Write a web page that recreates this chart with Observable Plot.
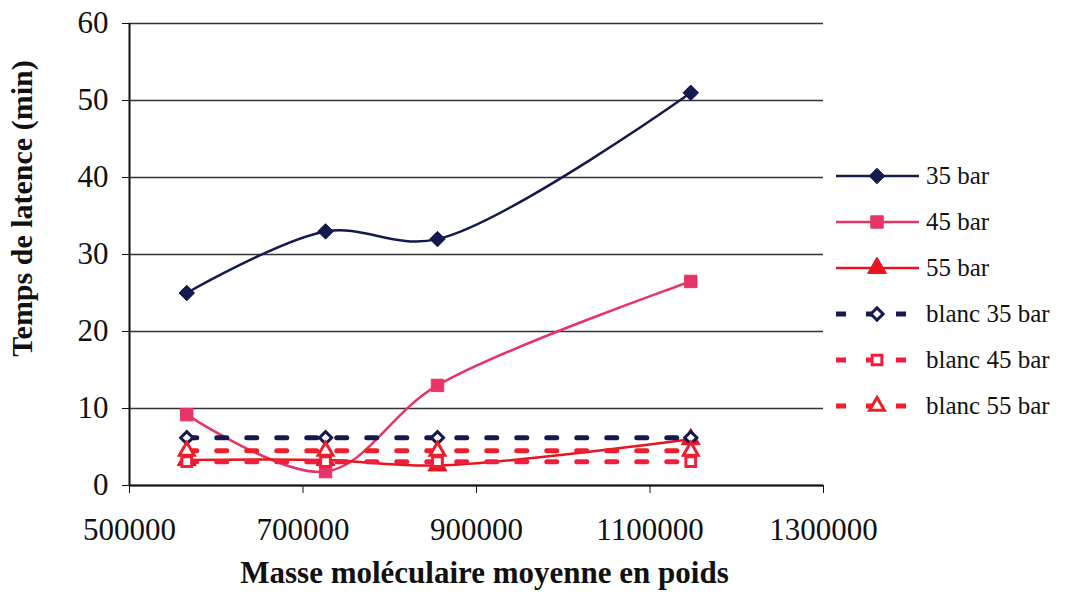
<!DOCTYPE html>
<html><head><meta charset="utf-8">
<script src="https://cdn.jsdelivr.net/npm/d3@7"></script>
<script src="https://cdn.jsdelivr.net/npm/@observablehq/plot@0.6"></script>
<style>
body{margin:0;background:#fff;font-family:"Liberation Serif",serif;}
#wrap{position:relative;width:1067px;height:594px;overflow:hidden;}
#legend{position:absolute;left:834px;top:153px;}
.row{display:flex;align-items:center;height:46px;}
.row span{font-size:25px;color:#111;margin-left:6px;white-space:nowrap;}
</style></head><body>
<div id="wrap"><div id="chart"></div><div id="legend"></div></div>
<script>
// ---- data ----
const masse = [566000, 726000, 855000, 1147000];
const bar35 = [25, 33, 32, 51];
const bar45 = [9.2, 1.8, 13, 26.5];
const bar55 = [3.3, 3.3, 2.6, 6.0];
const blanc35 = [6.2, 6.2, 6.2, 6.2];
const blanc45 = [3.1, 3.1, 3.1, 3.1];
const blanc55 = [4.5, 4.5, 4.5, 4.5];
const seriesNames = ["35 bar", "45 bar", "55 bar", "blanc 35 bar", "blanc 45 bar", "blanc 55 bar"];
const seriesValues = [bar35, bar45, bar55, blanc35, blanc45, blanc55];
const xTicks = [500000, 700000, 900000, 1100000, 1300000];
const yTicks = [0, 10, 20, 30, 40, 50, 60];
const xTitle = "Masse moléculaire moyenne en poids";
const yTitle = "Temps de latence (min)";

// ---- styles ----
const styles = [
  {color: "#141a4e", symbol: "diamond2", dashed: false, open: false, r: 7},
  {color: "#e63466", symbol: "square", dashed: false, open: false, r: 7},
  {color: "#e8141e", symbol: "triangle", dashed: false, open: false, r: 7},
  {color: "#141a4e", symbol: "diamond2", dashed: true, open: true, r: 5.5},
  {color: "#ee1e3c", symbol: "square", dashed: true, open: true, r: 5.5},
  {color: "#ee1e2a", symbol: "triangle", dashed: true, open: true, r: 5.5}
];

const series = seriesNames.map((name, i) => ({
  name, style: styles[i],
  rows: masse.map((m, j) => ({x: m, y: seriesValues[i][j]}))
}));

const marks = [
  Plot.gridY(yTicks, {stroke: "#333", strokeOpacity: 1, strokeWidth: 1.6}),
  Plot.ruleY([0], {stroke: "#111", strokeWidth: 1.8}),
  Plot.ruleX([500000], {stroke: "#111", strokeWidth: 2}),
  Plot.axisX({ticks: xTicks, tickFormat: d => String(d), tickSize: 8, tickPadding: 24, fontSize: 31, label: null, stroke: "#111"}),
  Plot.axisY({ticks: yTicks, tickSize: 7, tickPadding: 14, fontSize: 31, label: null, stroke: "#111"})
];

for (const s of series) {
  const st = s.style;
  marks.push(Plot.line(s.rows, {
    x: "x", y: "y", stroke: st.color,
    strokeWidth: st.dashed ? 5 : 2.5,
    strokeDasharray: st.dashed ? "10,20" : null,
    curve: st.dashed ? "linear" : "catmull-rom"
  }));
}
for (const s of series) {
  const st = s.style;
  marks.push(Plot.dot(s.rows, {
    x: "x", y: "y", symbol: st.symbol, r: st.r,
    fill: st.open ? "white" : st.color,
    stroke: st.color, strokeWidth: st.open ? 3 : 1
  }));
}

marks.push(Plot.text([xTitle], {frameAnchor: "bottom", dx: 8, dy: 97, fontSize: 31, fontWeight: "bold", fill: "#111"}));
marks.push(Plot.text([yTitle], {frameAnchor: "left", textAnchor: "middle", dx: -107, dy: -46, rotate: -90, fontSize: 30, fontWeight: "bold", fill: "#111"}));

const chart = Plot.plot({
  width: 1067, height: 594,
  marginLeft: 129, marginRight: 244, marginTop: 23, marginBottom: 109,
  x: {domain: [500000, 1300000]},
  y: {domain: [0, 60]},
  style: {fontFamily: "Liberation Serif, serif", color: "#111", background: "white"},
  marks
});
document.getElementById("chart").appendChild(chart);

// ---- legend ----
const legend = d3.select("#legend");
series.forEach(s => {
  const st = s.style;
  const row = legend.append("div").attr("class", "row");
  const svg = row.append("svg").attr("width", 86).attr("height", 30);
  svg.append("line").attr("x1", 2).attr("x2", 85).attr("y1", 15).attr("y2", 15)
    .attr("stroke", st.color).attr("stroke-width", st.dashed ? 5 : 2.5)
    .attr("stroke-dasharray", st.dashed ? "10,20" : null);
  const sym = {diamond2: d3.symbolDiamond2, square: d3.symbolSquare, triangle: d3.symbolTriangle}[st.symbol];
  svg.append("path").attr("d", d3.symbol(sym, Math.PI * st.r * st.r)())
    .attr("transform", "translate(43,15)")
    .attr("fill", st.open ? "white" : st.color)
    .attr("stroke", st.color).attr("stroke-width", st.open ? 3 : 1);
  row.append("span").text(s.name);
});
</script>
</body></html>
